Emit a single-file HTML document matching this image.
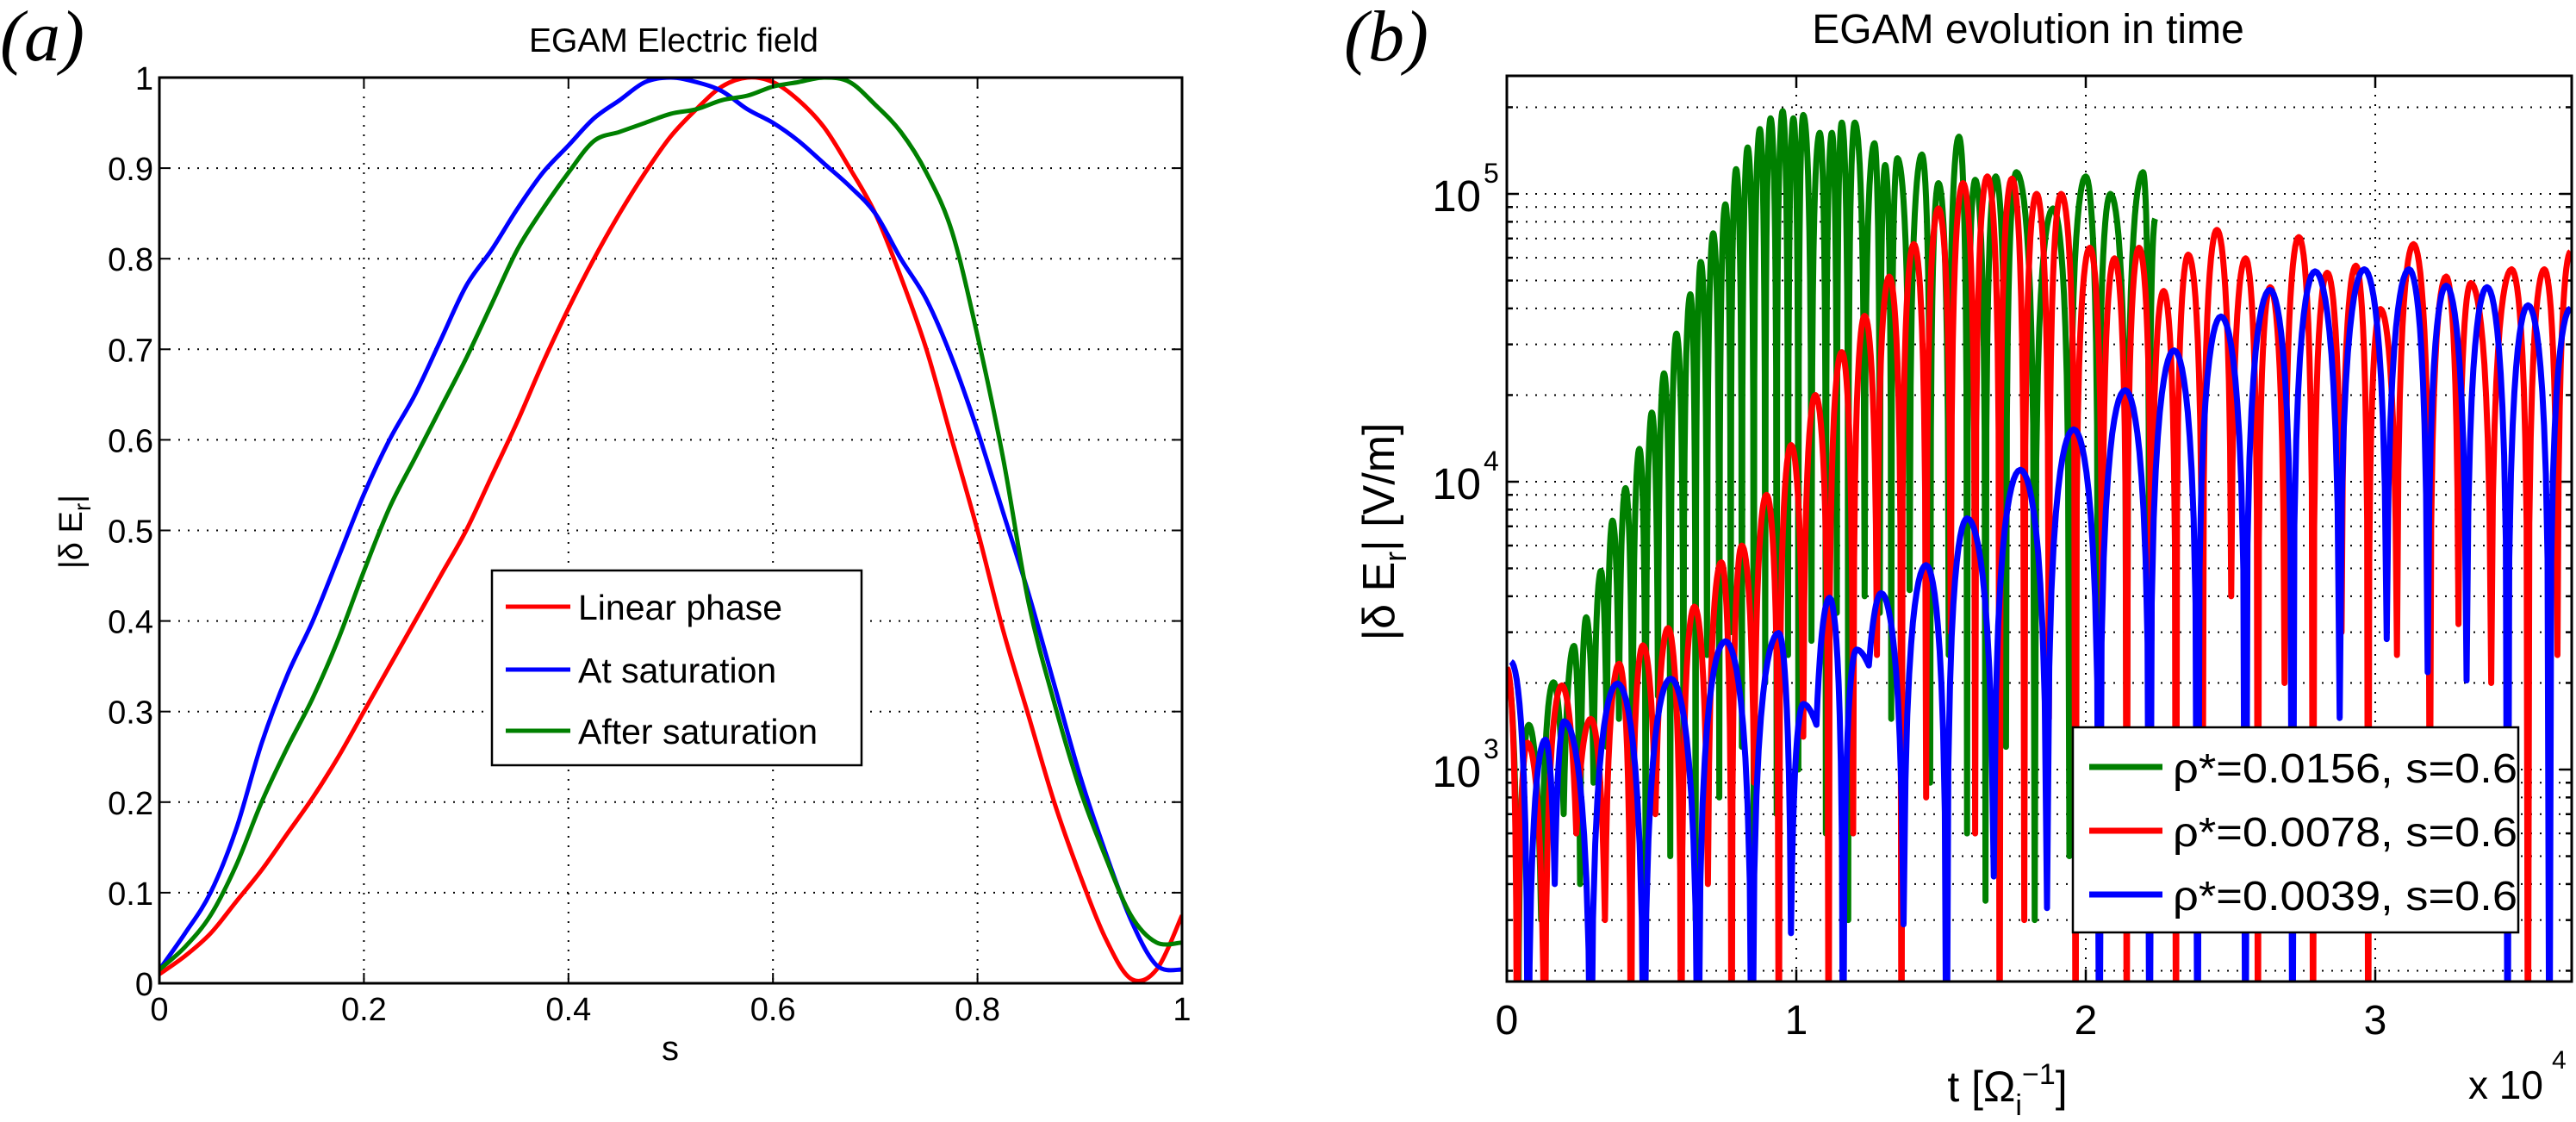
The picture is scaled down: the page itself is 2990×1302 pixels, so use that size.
<!DOCTYPE html>
<html><head><meta charset="utf-8"><style>
html,body{margin:0;padding:0;background:#fff;}
svg{display:block;font-family:"Liberation Sans",sans-serif;}
</style></head><body>
<svg id="fig" width="2990" height="1302" viewBox="0 0 2990 1302" xmlns="http://www.w3.org/2000/svg">
<defs>
<clipPath id="clipA"><rect x="185" y="90" width="1187" height="1051"/></clipPath>
<clipPath id="clipB"><rect x="1749" y="88" width="1236" height="1051"/></clipPath>
</defs>
<g id="panelA"></g>
<g id="panelB"></g>
</svg>
<script>
// ---------- Panel (a) data ----------
const sGrid = [0,0.025,0.05,0.075,0.1,0.125,0.15,0.175,0.2,0.225,0.25,0.275,0.3,0.325,0.35,0.375,0.4,0.425,0.45,0.475,0.5,0.525,0.55,0.575,0.6,0.625,0.65,0.675,0.7,0.725,0.75,0.775,0.8,0.825,0.85,0.875,0.9,0.925,0.95,0.975,1];
const linearPhase = [0.01,0.03,0.055,0.09,0.125,0.165,0.205,0.25,0.30,0.35,0.40,0.45,0.50,0.56,0.62,0.685,0.745,0.80,0.85,0.895,0.935,0.965,0.99,1.0,0.995,0.975,0.945,0.90,0.85,0.78,0.70,0.60,0.50,0.39,0.295,0.20,0.12,0.05,0.005,0.015,0.075];
const atSaturation = [0.015,0.055,0.10,0.17,0.265,0.34,0.40,0.47,0.54,0.60,0.65,0.71,0.77,0.81,0.855,0.895,0.925,0.955,0.975,0.995,1.0,0.995,0.985,0.965,0.95,0.93,0.905,0.88,0.85,0.80,0.755,0.69,0.61,0.52,0.43,0.33,0.23,0.145,0.07,0.02,0.015];
const afterSaturation = [0.015,0.04,0.075,0.13,0.20,0.26,0.315,0.38,0.455,0.525,0.58,0.635,0.69,0.75,0.81,0.855,0.895,0.93,0.94,0.95,0.96,0.965,0.975,0.98,0.99,0.995,1.0,0.995,0.97,0.94,0.895,0.83,0.715,0.58,0.42,0.31,0.215,0.14,0.075,0.045,0.045];
const aXTicks = [0,0.2,0.4,0.6,0.8,1];
const aXTickLabels = ["0","0.2","0.4","0.6","0.8","1"];
const aYTicks = [0,0.1,0.2,0.3,0.4,0.5,0.6,0.7,0.8,0.9,1];
const aYTickLabels = ["0","0.1","0.2","0.3","0.4","0.5","0.6","0.7","0.8","0.9","1"];

// ---------- Panel (b) data (t in units of 1e4) ----------
const bStartT = [0.0, 0.0, 0.014];
const bStartV = [2200, 2250, 2370];
const greenPeakT = [0.076,0.161,0.232,0.274,0.325,0.365,0.41,0.458,0.501,0.543,0.586,0.634,0.67,0.713,0.755,0.792,0.832,0.874,0.911,0.953,0.99,1.024,1.081,1.123,1.157,1.202,1.27,1.307,1.349,1.434,1.491,1.562,1.618,1.689,1.76,1.887,2.0,2.085,2.198,2.24];
const greenPeakV = [1430,2010,2690,3380,4900,7330,9500,13000,17400,23800,32700,44800,58000,73000,92000,122000,145000,168000,183000,194000,183000,188000,163000,163000,177000,177000,150000,126000,133000,137000,109000,158000,112000,115000,119000,89000,115000,100000,119000,82000];
const greenTroughV = [50,300,700,400,900,1200,1500,600,350,1800,500,1200,300,2500,800,3000,1200,400,2000,700,2500,1000,2800,600,3500,300,4000,3500,1500,4200,900,2500,600,350,1200,300,500,800,400,50];
const redPeakT = [0.071,0.19,0.29,0.388,0.47,0.557,0.648,0.741,0.812,0.897,0.982,1.066,1.157,1.236,1.321,1.406,1.491,1.576,1.66,1.745,1.83,1.915,2.014,2.099,2.184,2.269,2.354,2.453,2.552,2.637,2.736,2.834,2.933,3.018,3.132,3.245,3.33,3.471,3.584,3.675];
const redPeakV = [1240,1960,1500,2330,2700,3100,3680,5250,6000,9000,13400,20000,28200,37700,51600,66900,89000,109000,115000,113000,100000,100000,65000,59700,65000,46000,61500,75000,59700,47400,70800,53200,56300,39800,66900,51600,49000,54700,54700,63000];
const redTroughV = [50,50,600,300,50,700,50,400,50,900,50,1300,50,600,2500,50,800,3000,600,50,300,1500,50,3500,50,2800,50,400,4000,50,2000,50,3000,50,2500,400,3200,2000,50,2500];
const bluePeakT = [0.133,0.198,0.382,0.566,0.755,0.939,1.024,1.115,1.208,1.293,1.448,1.59,1.774,1.958,2.136,2.305,2.467,2.636,2.792,2.962,3.117,3.245,3.386,3.528,3.675];
const bluePeakV = [1270,1470,1990,2070,2790,2980,1690,3950,2610,4100,5130,7460,11000,15200,20800,28600,37500,46400,53800,54700,54700,48000,47400,41000,40000];
const blueTroughV = [50,400,50,50,50,50,270,1430,50,2300,290,50,425,330,50,50,50,50,50,1510,2840,2180,2040,50,50];
const bXTicks = [0,1,2,3];
const bXTickLabels = ["0","1","2","3"];
const bYDecades = [3,4,5];
const bYTickLabels = ["3","4","5"];
const legendBLabels = ["ρ*=0.0156, s=0.6","ρ*=0.0078, s=0.6","ρ*=0.0039, s=0.6"];
const legendALabels = ["Linear phase","At saturation","After saturation"];

const NS="http://www.w3.org/2000/svg";
function mk(parent, tag, attrs, text){
  const e=document.createElementNS(NS,tag);
  for(const k in attrs) e.setAttribute(k,attrs[k]);
  if(text!==undefined) e.textContent=text;
  parent.appendChild(e); return e;
}

// ===== Panel A =====
const A = document.getElementById('panelA');
const aL=185,aR=1372,aT=90,aB=1141;
const ax = s => aL + s*(aR-aL);
const ay = v => aB - v*(aB-aT);

// grid
aXTicks.forEach((t,i)=>{
  if(i>0 && i<aXTicks.length-1){
    const g=mk(A,'line',{x1:ax(t),x2:ax(t),y1:aT,y2:aB,stroke:'#000','stroke-width':2,'stroke-dasharray':'2,9'});
    
    
  }
});
aYTicks.forEach((t,i)=>{
  if(i>0 && i<aYTicks.length-1){
    const g=mk(A,'line',{x1:aL,x2:aR,y1:ay(t),y2:ay(t),stroke:'#000','stroke-width':2,'stroke-dasharray':'2,9'});
    
    
  }
});
// curves
const aSeries=[[linearPhase,'#ff0000','curve-linear-phase'],[atSaturation,'#0000ff','curve-at-saturation'],[afterSaturation,'#008000','curve-after-saturation']];
aSeries.forEach(([vals,col,name])=>{
  let d='';
  // Catmull-Rom smoothing
  const P=sGrid.map((s,i)=>[ax(s),ay(vals[i])]);
  d='M'+P[0][0]+','+P[0][1];
  for(let i=0;i<P.length-1;i++){
    const p0=P[Math.max(0,i-1)],p1=P[i],p2=P[i+1],p3=P[Math.min(P.length-1,i+2)];
    const c1=[p1[0]+(p2[0]-p0[0])/6,p1[1]+(p2[1]-p0[1])/6];
    const c2=[p2[0]-(p3[0]-p1[0])/6,p2[1]-(p3[1]-p1[1])/6];
    d+=' C'+c1[0]+','+c1[1]+' '+c2[0]+','+c2[1]+' '+p2[0]+','+p2[1];
  }
  const p=mk(A,'path',{d:d,fill:'none',stroke:col,'stroke-width':5,'clip-path':'url(#clipA)','stroke-linejoin':'round'});
  
  
});
// axes box
const boxA=mk(A,'rect',{x:aL,y:aT,width:aR-aL,height:aB-aT,fill:'none',stroke:'#000','stroke-width':3});


// ticks + labels
aXTicks.forEach((t,i)=>{
  mk(A,'line',{x1:ax(t),x2:ax(t),y1:aB,y2:aB-12,stroke:'#000','stroke-width':2});
  mk(A,'line',{x1:ax(t),x2:ax(t),y1:aT,y2:aT+12,stroke:'#000','stroke-width':2});
  const tl=mk(A,'text',{x:ax(t),y:1184,'font-size':38,'text-anchor':'middle'},aXTickLabels[i]);
  
  
});
aYTicks.forEach((t,i)=>{
  mk(A,'line',{x1:aL,x2:aL+12,y1:ay(t),y2:ay(t),stroke:'#000','stroke-width':2});
  mk(A,'line',{x1:aR,x2:aR-12,y1:ay(t),y2:ay(t),stroke:'#000','stroke-width':2});
  const tl=mk(A,'text',{x:178,y:ay(t)+14,'font-size':38,'text-anchor':'end'},aYTickLabels[i]);
  
  
});
let e;
e=mk(A,'text',{x:782,y:60,'font-size':39,'text-anchor':'middle'},'EGAM Electric field');


e=mk(A,'text',{x:778,y:1230,'font-size':40,'text-anchor':'middle'},'s');


e=mk(A,'text',{x:0,y:0,'font-size':38,'text-anchor':'middle',transform:'translate(95,617) rotate(-90)'});


e.innerHTML='|δ E<tspan font-size="28" dy="10">r</tspan><tspan dy="-10">|</tspan>';
e=mk(A,'text',{x:0,y:70,'font-size':84,'font-style':'italic','font-family':'Liberation Serif, serif'},'(a)');


// legend A
const legA=mk(A,'g',{});


mk(legA,'rect',{x:571,y:662,width:429,height:226,fill:'#fff',stroke:'#000','stroke-width':2.5});
const legAY=[704,777,848];
const legACols=['#ff0000','#0000ff','#008000'];
legendALabels.forEach((lab,i)=>{
  const g=mk(legA,'g',{});
  
  
  mk(g,'line',{x1:587,x2:662,y1:legAY[i],y2:legAY[i],stroke:legACols[i],'stroke-width':5});
  mk(g,'text',{x:671,y:legAY[i]+15,'font-size':41},lab);
});

// ===== Panel B =====
const B=document.getElementById('panelB');
const bL=1749,bR=2985,bT=88,bB=1139;
const tMax=(bR-bL)/336;
const bx = t => bL + t*336;
const by = v => 893 - (Math.log10(v)-3)*334;
// grid: vertical
bXTicks.forEach((t,i)=>{
  if(i>0){
    const g=mk(B,'line',{x1:bx(t),x2:bx(t),y1:bT,y2:bB,stroke:'#000','stroke-width':2,'stroke-dasharray':'2,9'});
    
    
  }
});
// grid: horizontal (major + minor)
for(let dec=2;dec<=5;dec++){
  for(let m=1;m<=9;m++){
    const v=m*Math.pow(10,dec);
    const y=by(v);
    if(y<bT||y>bB) continue;
    const g=mk(B,'line',{x1:bL,x2:bR,y1:y,y2:y,stroke:'#000','stroke-width':2,'stroke-dasharray':'2,9'});
    
    
    const len=m===1?14:7;
    mk(B,'line',{x1:bL,x2:bL+len,y1:y,y2:y,stroke:'#000','stroke-width':2.5});
    mk(B,'line',{x1:bR,x2:bR-len,y1:y,y2:y,stroke:'#000','stroke-width':2.5});
  }
}
// series
function seriesPath(st,sv,pT,pV,tV){
  const pts=[[st,sv]];
  let prevT=st, prevV=sv;
  for(let i=0;i<pT.length;i++){
    const trT=(prevT+pT[i])/2, trV=tV[i];
    // descend from prev peak to trough
    for(let k=1;k<=12;k++){const u=k/12;pts.push([prevT+(trT-prevT)*u, trV+(prevV-trV)*Math.cos(u*Math.PI/2)]);}
    // ascend to peak
    for(let k=1;k<=12;k++){const u=k/12;pts.push([trT+(pT[i]-trT)*u, trV+(pV[i]-trV)*Math.sin(u*Math.PI/2)]);}
    prevT=pT[i];prevV=pV[i];
  }
  if(tV.length>pT.length){
    const endT=Math.min(prevT+0.04,tMax), endV=tV[tV.length-1];
    for(let k=1;k<=12;k++){const u=k/12;pts.push([prevT+(endT-prevT)*u, endV+(prevV-endV)*Math.cos(u*Math.PI/2)]);}
  }
  return 'M'+pts.map(p=>bx(p[0]).toFixed(1)+','+by(Math.max(p[1],1)).toFixed(1)).join(' L');
}
const bSeries=[
  [bStartT[0],bStartV[0],greenPeakT,greenPeakV,greenTroughV,'#008000','series-rho-0.0156'],
  [bStartT[1],bStartV[1],redPeakT,redPeakV,redTroughV,'#ff0000','series-rho-0.0078'],
  [bStartT[2],bStartV[2],bluePeakT,bluePeakV,blueTroughV,'#0000ff','series-rho-0.0039']
];
bSeries.forEach(s=>{
  const p=mk(B,'path',{d:seriesPath(s[0],s[1],s[2],s[3],s[4]),fill:'none',stroke:s[5],'stroke-width':7,'stroke-linejoin':'round','clip-path':'url(#clipB)'});
  
  
});
const boxB=mk(B,'rect',{x:bL,y:bT,width:bR-bL,height:bB-bT,fill:'none',stroke:'#000','stroke-width':3});


bXTicks.forEach((t,i)=>{
  mk(B,'line',{x1:bx(t),x2:bx(t),y1:bB,y2:bB-14,stroke:'#000','stroke-width':2.5});
  mk(B,'line',{x1:bx(t),x2:bx(t),y1:bT,y2:bT+14,stroke:'#000','stroke-width':2.5});
  const tl=mk(B,'text',{x:bx(t),y:1200,'font-size':48,'text-anchor':'middle'},bXTickLabels[i]);
  
  
});
bYDecades.forEach((d,i)=>{
  const y=by(Math.pow(10,d));
  const tl=mk(B,'text',{x:1719,y:y+20,'font-size':51,'text-anchor':'end'},'10');
  
  
  const sp=mk(B,'text',{x:1722,y:y-13,'font-size':32},bYTickLabels[i]);
  
  
});
e=mk(B,'text',{x:2354,y:50,'font-size':48,'text-anchor':'middle'},'EGAM evolution in time');


e=mk(B,'text',{x:2330,y:1278,'font-size':50,'text-anchor':'middle'});


e.innerHTML='t [Ω<tspan font-size="34" dy="16">i</tspan><tspan font-size="34" dy="-36">−1</tspan><tspan dy="20">]</tspan>';
e=mk(B,'text',{x:2865,y:1275,'font-size':46},'x 10');


e=mk(B,'text',{x:2962,y:1240,'font-size':30},'4');


e=mk(B,'text',{x:0,y:0,'font-size':52,'text-anchor':'middle',transform:'translate(1618,617) rotate(-90)'});


e.innerHTML='|δ E<tspan font-size="36" dy="14">r</tspan><tspan dy="-14">| [V/m]</tspan>';
e=mk(B,'text',{x:1560,y:70,'font-size':84,'font-style':'italic','font-family':'Liberation Serif, serif'},'(b)');


// legend B
const legB=mk(B,'g',{});


mk(legB,'rect',{x:2406,y:844,width:517,height:238,fill:'#fff',stroke:'#000','stroke-width':2.5});
const legBY=[890,964,1038];
const legBCols=['#008000','#ff0000','#0000ff'];
legendBLabels.forEach((lab,i)=>{
  const g=mk(legB,'g',{});
  
  
  mk(g,'line',{x1:2425,x2:2510,y1:legBY[i],y2:legBY[i],stroke:legBCols[i],'stroke-width':7});
  mk(g,'text',{x:2522,y:legBY[i]+18,'font-size':48,textLength:400,lengthAdjust:'spacingAndGlyphs'},lab);
});
</script>
</body></html>
